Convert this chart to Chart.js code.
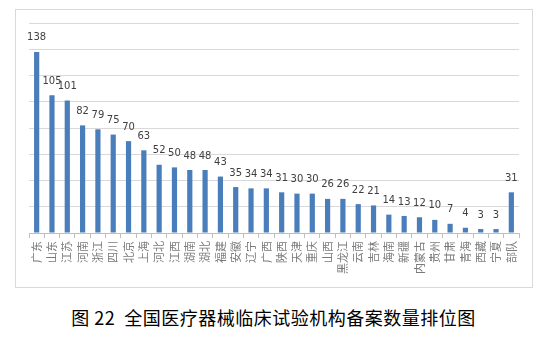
<!DOCTYPE html>
<html>
<head>
<meta charset="utf-8">
<script src="https://cdn.jsdelivr.net/npm/chart.js@4.4.1/dist/chart.umd.min.js"></script>
<style>
  body { margin: 0; background: #fff; width: 552px; height: 338px; position: relative; overflow: hidden; }
  #box { position: absolute; left: 15px; top: 9px; width: 516px; height: 277px; border: 1px solid #d9d9d9; }
  #box canvas { display: block; }
  #caption {
    position: absolute; left: 0; top: 304px; width: 547px; text-align: center;
    font-family: "Noto Sans CJK SC", sans-serif; font-size: 18px; letter-spacing: 0.5px; color: #000; white-space: pre;
  }
</style>
</head>
<body>
<div id="box"><canvas id="chart" width="516" height="277"></canvas></div>
<div id="caption">图 22  全国医疗器械临床试验机构备案数量排位图</div>
<script>
;(function (document, window) {
    'use strict';

    var provinces = ['广东', '山东', '江苏', '河南', '浙江', '四川', '北京', '上海', '河北', '江西',
        '湖南', '湖北', '福建', '安徽', '辽宁', '广西', '陕西', '天津', '重庆', '山西',
        '黑龙江', '云南', '吉林', '海南', '新疆', '内蒙古', '贵州', '甘肃', '青海', '西藏',
        '宁夏', '部队'];
    var counts = [138, 105, 101, 82, 79, 75, 70, 63, 52, 50,
        48, 48, 43, 35, 34, 34, 31, 30, 30, 26,
        26, 22, 21, 14, 13, 12, 10, 7, 4, 3,
        3, 31];
    var yTicks = [0, 20, 40, 60, 80, 100, 120, 140, 160];

    // value printed above each bar
    var valueLabels = {
        id: 'valueLabels',
        afterDatasetsDraw: function (chart) {
            var ctx = chart.ctx;
            var meta = chart.getDatasetMeta(0);
            ctx.save();
            ctx.font = '10px "DejaVu Sans", sans-serif';
            ctx.fillStyle = '#404040';
            ctx.textAlign = 'center';
            ctx.textBaseline = 'bottom';
            meta.data.forEach(function (bar, i) {
                ctx.fillText(String(counts[i]), bar.x, bar.y - 9);
            });
            ctx.restore();
        }
    };

    new Chart(document.getElementById('chart'), {
        type: 'bar',
        data: {
            labels: provinces,
            datasets: [{
                data: counts,
                backgroundColor: '#4a7ebb',
                barPercentage: 0.34,
                categoryPercentage: 1
            }]
        },
        options: {
            responsive: false,
            animation: false,
            layout: { padding: { top: 13, right: 13, left: 13, bottom: 10 } },
            plugins: {
                legend: { display: false },
                tooltip: { enabled: false }
            },
            scales: {
                x: {
                    offset: true,
                    grid: {
                        display: true,
                        drawOnChartArea: false,
                        drawTicks: true,
                        tickLength: 5,
                        color: '#bfbfbf'
                    },
                    border: { display: true, color: '#bfbfbf' },
                    ticks: {
                        autoSkip: false,
                        // names run bottom-to-top, ending just under the axis
                        maxRotation: 90,
                        minRotation: 90,
                        padding: 3,
                        color: '#7a7a7a',
                        font: { family: '"Noto Sans CJK SC", sans-serif', size: 11 }
                    }
                },
                y: {
                    min: yTicks[0],
                    max: yTicks[yTicks.length - 1],
                    afterBuildTicks: function (axis) {
                        axis.ticks = yTicks.map(function (v) { return { value: v }; });
                    },
                    ticks: { display: false },
                    border: { display: false },
                    grid: { color: '#d9d9d9', drawTicks: false }
                }
            }
        },
        plugins: [valueLabels]
    });

})(document, window);
</script>
</body>
</html>
